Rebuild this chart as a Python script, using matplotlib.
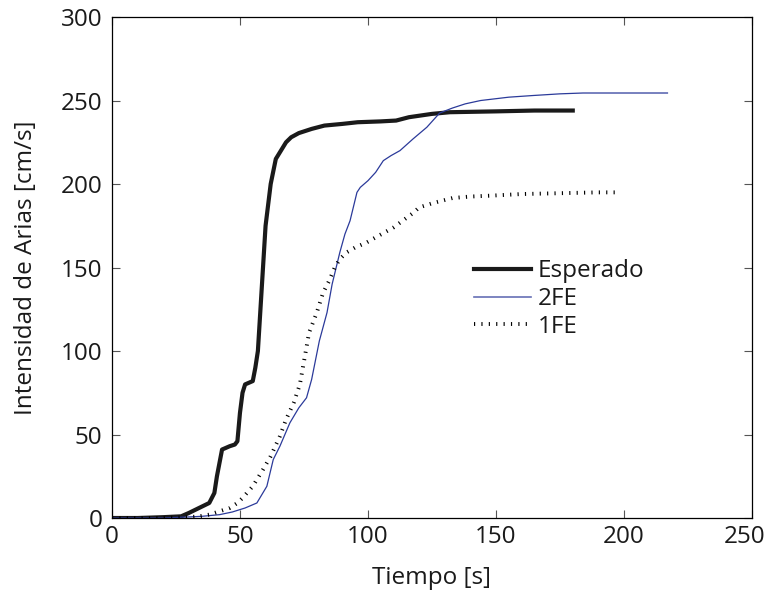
import matplotlib.pyplot as plt
import matplotlib.transforms as mtransforms
from matplotlib.lines import Line2D

plt.rcParams['font.family'] = ['Open Sans', 'DejaVu Sans']

# Esperado (registro esperado)
t_esp = [0, 10, 20, 27, 30, 34, 38, 40, 41, 43, 46, 48, 49, 50, 51, 52, 55, 56, 57, 58,
         59, 60, 62, 64, 66, 68, 70, 73, 78, 83, 90, 96, 105, 111, 116, 125, 132, 150, 165, 180]
ia_esp = [0, 0, 0.5, 1, 3, 6, 9, 15, 25, 41, 43, 44, 46, 63, 75, 80, 82, 90, 100, 125,
          150, 175, 200, 215, 220, 225, 228, 230.5, 233, 235, 236, 237, 237.5, 238, 240, 242, 243, 243.5, 244, 244]

# 2FE
t_2fe = [0, 10, 20, 28, 35, 42, 47, 52, 56.6, 60.5, 63, 65.6, 69.5, 73, 76, 78, 81, 84, 86,
         89, 91, 93, 95.7, 97, 100, 103, 106, 109, 112.5, 117.6, 123, 128, 133, 138, 144,
         155, 164.5, 175, 184, 200, 217]
ia_2fe = [0, 0, 0, 0.5, 1, 2, 3.6, 6, 9, 19, 35, 43, 57, 66, 72, 83, 106, 123, 140,
          159, 170, 178, 195, 198, 202, 207, 214, 217, 220, 227, 234, 242.5, 245.5, 248, 250,
          252, 253, 254, 254.5, 254.5, 254.5]

# 1FE
t_1fe = [0, 10, 20, 30, 34, 38, 42, 46, 49, 51, 55, 59, 62, 65.6, 68, 71, 73.4, 77, 80,
         82.5, 85, 87, 89, 91.6, 95, 99.5, 104.7, 110, 117.6, 120, 125.4, 133, 140, 147.6,
         160, 175, 190, 198]
ia_1fe = [0, 0, 0, 0.5, 1, 2, 4, 6, 9, 12, 19, 29, 37, 49, 59, 69, 80, 111, 123,
          135, 142.5, 150, 155, 159, 162, 165, 169.5, 174, 182.6, 186, 188.6, 191.6, 192.5, 193,
          194, 194.5, 195, 195]

FS = 17.5

fig = plt.figure(figsize=(7.68, 5.91), dpi=100)
ax = fig.add_axes([0.1458, 0.1235, 0.8333, 0.8477])

ax.plot(t_esp, ia_esp, color='#1a1a1a', lw=3.0, solid_joinstyle='round')
ax.plot(t_2fe, ia_2fe, color='#2b3a9a', lw=0.9)
ax.plot(t_1fe, ia_1fe, color='black', lw=2.8, linestyle=(0, (0.3, 1.6)))

ax.set_xlim(0, 250)
ax.set_ylim(0, 300)
ax.set_xticks([0, 50, 100, 150, 200, 250])
ax.set_yticks([0, 50, 100, 150, 200, 250, 300])
ax.tick_params(direction='in', top=True, right=True, length=6, width=0.8,
               color='#555555', labelsize=FS, labelcolor='#1a1a1a')
ax.tick_params(axis='x', pad=5)
ax.tick_params(axis='y', pad=7)
for s in ax.spines.values():
    s.set_linewidth(0.9)

# el ultimo rotulo del eje x queda pegado al borde, se corre un poco a la izquierda
last = ax.get_xticklabels()[-1]
last.set_transform(last.get_transform() +
                   mtransforms.ScaledTranslation(-7 / 100, 0, fig.dpi_scale_trans))

ax.set_xlabel('Tiempo [s]', fontsize=FS, labelpad=12, color='#1a1a1a')
ax.set_ylabel('Intensidad de Arias [cm/s]', fontsize=FS, labelpad=16, color='#1a1a1a')

handles = [
    Line2D([], [], color='#1a1a1a', lw=3.0),
    Line2D([], [], color='#6670b5', lw=1.2),
    Line2D([], [], color='black', lw=2.8, linestyle=(0, (0.3, 1.6))),
]
leg = ax.legend(handles, ['Esperado', '2FE', '1FE'], loc='center left',
                bbox_to_anchor=(0.531, 0.437), frameon=False, fontsize=FS,
                handlelength=2.35, handletextpad=0.3, labelspacing=0.15)
for txt in leg.get_texts():
    txt.set_color('#1a1a1a')

fig.savefig('out.png', dpi=100)
